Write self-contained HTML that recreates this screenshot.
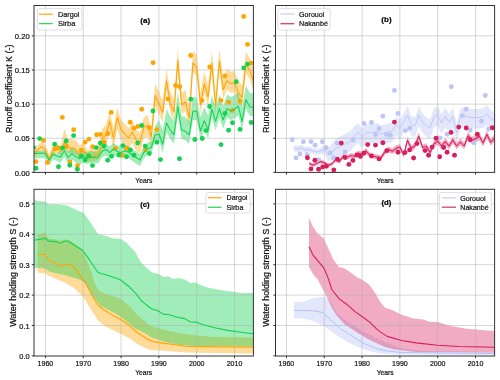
<!DOCTYPE html><html><head><meta charset="utf-8"><style>html,body{margin:0;padding:0;background:#fff;width:500px;height:380px;overflow:hidden}</style></head><body><svg width="500" height="380" viewBox="0 0 500 380" style="display:block;will-change:transform;font-family:'Liberation Sans', sans-serif">
<defs>
<clipPath id="ca"><rect x="34" y="5.5" width="219.4" height="166.9"/></clipPath>
<clipPath id="cb"><rect x="275.5" y="5.5" width="219.1" height="166.9"/></clipPath>
<clipPath id="cc"><rect x="34" y="189.3" width="219.4" height="166.7"/></clipPath>
<clipPath id="cd"><rect x="275.5" y="189.3" width="219.1" height="166.7"/></clipPath>
</defs>
<rect width="500" height="380" fill="#fff"/>
<g clip-path="url(#cc)">
<polygon points="37.5,234.2 41.5,233.7 44.6,232.6 46.2,235.3 48.6,238.4 55.7,239.2 60.4,240.8 66.0,239.2 69.1,240.0 73.9,243.2 79.4,247.1 83.3,252.6 88.4,264.2 92.0,274.0 95.0,284.0 98.4,290.3 105.3,293.7 113.8,296.3 120.7,298.8 129.2,305.7 137.8,315.5 146.3,322.5 150.5,326.0 159.7,328.5 168.9,331.0 179.5,333.0 192.6,335.0 213.4,337.0 254.0,337.5 254.0,353.5 200.0,352.8 186.0,352.4 166.3,351.0 150.5,350.0 146.3,348.3 137.8,344.5 129.2,338.2 120.7,333.9 113.8,330.5 105.3,326.2 98.4,321.0 95.0,315.9 90.8,309.2 83.7,297.4 74.2,288.0 63.6,282.0 55.7,278.7 47.8,275.6 45.4,273.2 41.5,273.2 37.5,272.4" fill="#ffa500" fill-opacity="0.4"/><polygon points="33.0,199.9 38.6,201.0 45.2,201.4 48.5,204.3 56.2,204.3 67.2,205.4 76.0,209.8 83.7,213.1 89.2,220.8 98.0,234.0 106.8,236.2 113.4,238.4 120.0,238.8 126.6,242.8 130.0,246.6 134.7,251.3 140.7,262.0 146.6,268.0 152.5,272.7 158.4,273.8 163.2,276.9 167.9,276.2 173.8,279.3 178.6,277.9 185.7,279.8 190.4,283.3 194.5,282.3 201.6,285.4 208.7,287.8 220.5,290.1 232.4,291.8 241.9,293.0 254.0,293.0 254.0,346.5 200.0,346.5 179.5,344.9 166.3,342.2 151.8,337.5 144.6,333.0 134.3,327.9 124.1,319.3 117.2,314.2 108.7,309.9 100.1,305.7 95.0,298.8 90.8,293.8 85.7,283.5 79.4,279.5 71.5,277.1 63.6,274.8 55.7,273.2 49.4,271.6 45.4,268.4 41.5,267.7 33.0,268.4" fill="#14d250" fill-opacity="0.4"/>
<g stroke="#b0b0b0" stroke-opacity="0.5" stroke-width="1"><line x1="45.45" y1="189.3" x2="45.45" y2="356"/><line x1="83.27" y1="189.3" x2="83.27" y2="356"/><line x1="121.09" y1="189.3" x2="121.09" y2="356"/><line x1="158.91" y1="189.3" x2="158.91" y2="356"/><line x1="196.73" y1="189.3" x2="196.73" y2="356"/><line x1="234.55" y1="189.3" x2="234.55" y2="356"/><line x1="34" y1="325.5" x2="253.4" y2="325.5"/><line x1="34" y1="295.1" x2="253.4" y2="295.1"/><line x1="34" y1="264.7" x2="253.4" y2="264.7"/><line x1="34" y1="234.3" x2="253.4" y2="234.3"/><line x1="34" y1="203.9" x2="253.4" y2="203.9"/></g>
<polyline points="37.5,254.7 44.6,254.2 49.4,261.0 54.9,262.9 60.4,266.4 65.2,264.2 69.9,264.8 75.4,268.4 79.4,274.8 85.0,282.0 90.8,292.7 95.0,300.5 98.4,305.7 105.3,310.8 113.8,315.9 120.7,319.3 129.2,325.3 137.8,333.0 146.3,338.2 151.8,341.3 159.7,342.6 172.9,344.5 186.0,346.2 200.0,346.6 254.0,347.2" fill="none" stroke="#ffa500" stroke-width="1.1" stroke-linejoin="round" stroke-opacity="1"/><polyline points="33.0,240.5 39.9,239.2 45.4,238.4 48.6,241.1 55.7,241.6 60.4,243.2 65.2,241.1 68.3,241.3 74.7,245.5 82.6,250.3 87.3,256.6 92.0,263.7 97.9,272.5 109.8,276.0 116.9,278.4 120.7,280.0 129.2,286.8 136.0,293.7 141.2,300.5 146.3,304.8 151.3,308.7 158.4,311.0 163.2,314.1 169.1,314.8 177.4,317.2 185.0,318.6 189.7,321.7 195.7,322.1 204.0,325.0 215.8,328.0 227.7,330.4 239.5,332.0 254.0,334.0" fill="none" stroke="#14d250" stroke-width="1.1" stroke-linejoin="round" stroke-opacity="1"/>
</g>
<rect x="34" y="189.3" width="219.4" height="166.7" fill="none" stroke="#333" stroke-width="1"/><line x1="45.45" y1="356" x2="45.45" y2="358.2" stroke="#333" stroke-width="1"/><line x1="83.27" y1="356" x2="83.27" y2="358.2" stroke="#333" stroke-width="1"/><line x1="121.09" y1="356" x2="121.09" y2="358.2" stroke="#333" stroke-width="1"/><line x1="158.91" y1="356" x2="158.91" y2="358.2" stroke="#333" stroke-width="1"/><line x1="196.73" y1="356" x2="196.73" y2="358.2" stroke="#333" stroke-width="1"/><line x1="234.55" y1="356" x2="234.55" y2="358.2" stroke="#333" stroke-width="1"/><line x1="31.8" y1="355.9" x2="34" y2="355.9" stroke="#333" stroke-width="1"/><line x1="31.8" y1="325.5" x2="34" y2="325.5" stroke="#333" stroke-width="1"/><line x1="31.8" y1="295.1" x2="34" y2="295.1" stroke="#333" stroke-width="1"/><line x1="31.8" y1="264.7" x2="34" y2="264.7" stroke="#333" stroke-width="1"/><line x1="31.8" y1="234.3" x2="34" y2="234.3" stroke="#333" stroke-width="1"/><line x1="31.8" y1="203.9" x2="34" y2="203.9" stroke="#333" stroke-width="1"/>
<g clip-path="url(#cd)">
<polygon points="294.0,302.0 303.4,302.0 312.9,298.0 324.8,296.5 331.8,303.0 336.0,312.0 342.4,317.9 350.8,323.2 361.3,330.5 371.8,335.8 384.9,342.1 400.0,348.0 420.0,351.0 495.0,352.0 495.0,355.2 400.0,354.6 384.9,353.8 375.0,352.5 360.3,348.0 348.5,342.5 336.6,335.5 324.8,326.5 312.9,321.0 303.4,318.6 294.0,318.6" fill="#b4c0f8" fill-opacity="0.38"/><polygon points="309.0,218.0 313.0,226.7 317.8,233.8 323.7,238.6 328.4,248.5 333.2,259.3 339.1,267.3 343.8,268.1 351.0,272.8 356.9,277.3 362.8,280.0 369.7,285.3 375.8,294.0 380.0,301.6 384.8,307.6 392.0,310.0 401.6,314.8 413.6,318.4 423.2,319.6 430.4,322.0 437.6,322.0 452.0,326.3 466.4,328.7 480.8,329.9 495.0,330.9 495.0,352.5 416.0,352.0 394.4,349.6 384.9,347.0 369.7,340.0 357.1,332.6 344.5,324.2 336.0,314.7 331.8,307.4 328.7,301.0 324.5,292.6 317.7,279.5 313.0,274.1 309.0,267.0" fill="#d81e5b" fill-opacity="0.37"/>
<g stroke="#b0b0b0" stroke-opacity="0.5" stroke-width="1"><line x1="286.45" y1="189.3" x2="286.45" y2="356"/><line x1="324.27" y1="189.3" x2="324.27" y2="356"/><line x1="362.09" y1="189.3" x2="362.09" y2="356"/><line x1="399.91" y1="189.3" x2="399.91" y2="356"/><line x1="437.73" y1="189.3" x2="437.73" y2="356"/><line x1="475.55" y1="189.3" x2="475.55" y2="356"/><line x1="275.5" y1="325.5" x2="494.6" y2="325.5"/><line x1="275.5" y1="295.1" x2="494.6" y2="295.1"/><line x1="275.5" y1="264.7" x2="494.6" y2="264.7"/><line x1="275.5" y1="234.3" x2="494.6" y2="234.3"/><line x1="275.5" y1="203.9" x2="494.6" y2="203.9"/></g>
<polyline points="294.0,310.3 312.9,310.8 323.4,312.6 329.7,319.0 340.3,328.4 350.8,335.2 363.4,343.2 376.0,348.4 384.9,350.5 400.0,352.5 495.0,353.5" fill="none" stroke="#b4c0f8" stroke-width="1.0" stroke-linejoin="round" stroke-opacity="1"/><polyline points="309.0,246.8 313.0,255.1 319.0,262.2 324.3,268.7 328.4,278.9 331.8,289.5 339.2,298.9 346.6,304.2 355.0,311.6 363.4,317.5 369.7,322.1 376.0,328.4 380.0,331.6 387.2,336.4 401.6,340.5 416.0,342.9 437.6,345.3 459.2,346.5 495.0,347.2" fill="none" stroke="#d81e5b" stroke-width="1.1" stroke-linejoin="round" stroke-opacity="1"/>
</g>
<rect x="275.5" y="189.3" width="219.1" height="166.7" fill="none" stroke="#333" stroke-width="1"/><line x1="286.45" y1="356" x2="286.45" y2="358.2" stroke="#333" stroke-width="1"/><line x1="324.27" y1="356" x2="324.27" y2="358.2" stroke="#333" stroke-width="1"/><line x1="362.09" y1="356" x2="362.09" y2="358.2" stroke="#333" stroke-width="1"/><line x1="399.91" y1="356" x2="399.91" y2="358.2" stroke="#333" stroke-width="1"/><line x1="437.73" y1="356" x2="437.73" y2="358.2" stroke="#333" stroke-width="1"/><line x1="475.55" y1="356" x2="475.55" y2="358.2" stroke="#333" stroke-width="1"/><line x1="273.3" y1="355.9" x2="275.5" y2="355.9" stroke="#333" stroke-width="1"/><line x1="273.3" y1="325.5" x2="275.5" y2="325.5" stroke="#333" stroke-width="1"/><line x1="273.3" y1="295.1" x2="275.5" y2="295.1" stroke="#333" stroke-width="1"/><line x1="273.3" y1="264.7" x2="275.5" y2="264.7" stroke="#333" stroke-width="1"/><line x1="273.3" y1="234.3" x2="275.5" y2="234.3" stroke="#333" stroke-width="1"/><line x1="273.3" y1="203.9" x2="275.5" y2="203.9" stroke="#333" stroke-width="1"/>
<g clip-path="url(#ca)">
<polygon points="34.1,148.4 37.9,145.1 41.7,141.8 45.5,145.8 49.2,154.3 53.0,145.8 56.8,144.5 60.6,147.1 64.4,128.4 68.1,139.3 71.9,138.7 75.7,140.0 79.5,145.0 83.3,143.0 87.1,149.6 90.8,149.6 94.6,148.7 98.4,147.8 102.2,128.7 106.0,125.0 109.7,111.0 113.5,128.0 117.3,107.5 121.1,119.7 124.9,124.0 128.7,128.0 132.4,122.0 136.2,130.0 140.0,132.4 143.8,117.3 147.6,115.4 151.3,127.0 155.1,83.5 158.9,91.5 162.7,100.5 166.5,69.0 170.3,92.0 174.0,100.0 177.8,48.4 181.6,93.0 185.4,90.0 189.2,106.0 192.9,50.9 196.7,55.0 200.5,93.0 204.3,71.7 208.1,85.0 211.9,51.1 215.6,94.0 219.4,49.3 223.2,77.8 227.0,68.7 230.8,71.7 234.6,71.1 238.3,80.3 242.1,85.7 245.9,51.7 249.7,58.4 253.5,69.3 253.5,90.3 249.7,79.4 245.9,72.7 242.1,106.7 238.3,101.3 234.6,92.1 230.8,92.7 227.0,89.7 223.2,98.8 219.4,70.3 215.6,115.0 211.9,72.1 208.1,106.0 204.3,92.7 200.5,114.0 196.7,76.0 192.9,71.9 189.2,127.0 185.4,111.0 181.6,114.0 177.8,69.4 174.0,121.0 170.3,113.0 166.5,90.0 162.7,121.5 158.9,114.5 155.1,106.5 151.3,148.0 147.6,136.4 143.8,138.3 140.0,153.4 136.2,151.0 132.4,143.0 128.7,149.0 124.9,145.0 121.1,140.7 117.3,128.5 113.5,149.0 109.7,132.0 106.0,146.0 102.2,149.7 98.4,159.8 94.6,160.7 90.8,161.6 87.1,161.6 83.3,155.0 79.5,159.0 75.7,154.0 71.9,152.7 68.1,153.3 64.4,147.4 60.6,155.6 56.8,153.0 53.0,154.3 49.2,162.8 45.5,154.3 41.7,150.3 37.9,153.6 34.1,156.9" fill="#ffa500" fill-opacity="0.4"/><polygon points="34.1,150.8 37.9,151.1 41.7,150.4 45.5,151.1 49.2,157.7 53.0,151.7 56.8,153.5 60.6,150.9 64.4,144.7 68.1,151.5 71.9,147.6 75.7,150.6 79.5,152.9 83.3,150.6 87.1,152.0 90.8,151.0 94.6,151.5 98.4,151.0 102.2,145.3 106.0,143.5 109.7,146.6 113.5,143.0 117.3,145.4 121.1,146.6 124.9,144.8 128.7,146.0 132.4,149.0 136.2,151.5 140.0,154.0 143.8,146.6 147.6,142.4 151.3,141.8 155.1,126.0 158.9,120.0 162.7,130.2 166.5,109.0 170.3,116.0 174.0,120.9 177.8,92.5 181.6,116.0 185.4,117.3 189.2,120.9 192.9,97.3 196.7,97.0 200.5,117.0 204.3,106.7 208.1,115.7 211.9,95.2 215.6,107.3 219.4,94.6 223.2,106.0 227.0,94.6 230.8,97.0 234.6,95.2 238.3,92.2 242.1,107.3 245.9,85.5 249.7,92.8 253.5,93.4 253.5,116.4 249.7,115.8 245.9,108.5 242.1,130.3 238.3,115.2 234.6,118.2 230.8,120.0 227.0,117.6 223.2,129.0 219.4,117.6 215.6,130.3 211.9,118.2 208.1,138.7 204.3,129.7 200.5,140.0 196.7,120.0 192.9,120.3 189.2,143.9 185.4,140.3 181.6,139.0 177.8,115.5 174.0,143.9 170.3,139.0 166.5,132.0 162.7,153.2 158.9,140.0 155.1,141.0 151.3,153.8 147.6,154.4 143.8,158.6 140.0,166.0 136.2,163.5 132.4,161.0 128.7,158.0 124.9,156.8 121.1,158.6 117.3,157.4 113.5,155.0 109.7,158.6 106.0,155.5 102.2,157.3 98.4,163.0 94.6,163.5 90.8,163.0 87.1,164.0 83.3,162.6 79.5,164.9 75.7,162.6 71.9,159.6 68.1,163.5 64.4,156.7 60.6,162.9 56.8,161.0 53.0,159.2 49.2,165.2 45.5,158.6 41.7,157.9 37.9,158.6 34.1,158.3" fill="#14d250" fill-opacity="0.4"/>
<g stroke="#b0b0b0" stroke-opacity="0.5" stroke-width="1"><line x1="45.45" y1="5.5" x2="45.45" y2="172.4"/><line x1="83.27" y1="5.5" x2="83.27" y2="172.4"/><line x1="121.09" y1="5.5" x2="121.09" y2="172.4"/><line x1="158.91" y1="5.5" x2="158.91" y2="172.4"/><line x1="196.73" y1="5.5" x2="196.73" y2="172.4"/><line x1="234.55" y1="5.5" x2="234.55" y2="172.4"/><line x1="34" y1="138.28" x2="253.4" y2="138.28"/><line x1="34" y1="104.15" x2="253.4" y2="104.15"/><line x1="34" y1="70.03" x2="253.4" y2="70.03"/><line x1="34" y1="35.9" x2="253.4" y2="35.9"/></g>
<polyline points="34.1,152.9 37.9,149.6 41.7,146.3 45.5,150.3 49.2,158.8 53.0,150.3 56.8,149.0 60.6,151.6 64.4,142.4 68.1,148.3 71.9,147.7 75.7,149.0 79.5,154.0 83.3,150.0 87.1,156.6 90.8,156.6 94.6,155.7 98.4,154.8 102.2,138.7 106.0,135.0 109.7,121.0 113.5,138.0 117.3,117.5 121.1,129.7 124.9,134.0 128.7,138.0 132.4,132.0 136.2,140.0 140.0,142.4 143.8,127.3 147.6,125.4 151.3,137.0 155.1,95.5 158.9,103.5 162.7,112.5 166.5,81.0 170.3,104.0 174.0,112.0 177.8,60.4 181.6,105.0 185.4,102.0 189.2,118.0 192.9,62.9 196.7,67.0 200.5,105.0 204.3,83.7 208.1,97.0 211.9,63.1 215.6,106.0 219.4,61.3 223.2,89.8 227.0,80.7 230.8,83.7 234.6,83.1 238.3,92.3 242.1,97.7 245.9,63.7 249.7,70.4 253.5,81.3" fill="none" stroke="#ffa500" stroke-width="1.05" stroke-linejoin="round" stroke-opacity="1"/><g fill="#ffa500" fill-opacity="1"><circle cx="36.0" cy="161.6" r="2.45"/><circle cx="43.5" cy="140.5" r="2.45"/><circle cx="47.4" cy="162.4" r="2.45"/><circle cx="54.8" cy="149.0" r="2.45"/><circle cx="58.4" cy="147.8" r="2.45"/><circle cx="62.3" cy="117.4" r="2.45"/><circle cx="66.3" cy="146.3" r="2.45"/><circle cx="69.9" cy="162.0" r="2.45"/><circle cx="73.7" cy="129.7" r="2.45"/><circle cx="77.5" cy="165.6" r="2.45"/><circle cx="81.3" cy="150.2" r="2.45"/><circle cx="85.1" cy="142.3" r="2.45"/><circle cx="89.0" cy="139.1" r="2.45"/><circle cx="92.6" cy="146.7" r="2.45"/><circle cx="96.6" cy="134.8" r="2.45"/><circle cx="100.4" cy="134.4" r="2.45"/><circle cx="104.0" cy="142.2" r="2.45"/><circle cx="107.8" cy="133.8" r="2.45"/><circle cx="111.2" cy="112.4" r="2.45"/><circle cx="115.5" cy="148.4" r="2.45"/><circle cx="122.1" cy="155.3" r="2.45"/><circle cx="126.5" cy="148.4" r="2.45"/><circle cx="130.2" cy="122.2" r="2.45"/><circle cx="134.0" cy="128.2" r="2.45"/><circle cx="137.8" cy="126.4" r="2.45"/><circle cx="141.7" cy="109.3" r="2.45"/><circle cx="145.4" cy="149.8" r="2.45"/><circle cx="149.3" cy="127.6" r="2.45"/><circle cx="153.1" cy="62.7" r="2.45"/><circle cx="156.9" cy="129.6" r="2.45"/><circle cx="168.0" cy="99.0" r="2.45"/><circle cx="175.7" cy="85.5" r="2.45"/><circle cx="179.7" cy="86.7" r="2.45"/><circle cx="190.7" cy="55.5" r="2.45"/><circle cx="202.0" cy="100.5" r="2.45"/><circle cx="209.7" cy="66.9" r="2.45"/><circle cx="221.0" cy="100.4" r="2.45"/><circle cx="225.0" cy="75.9" r="2.45"/><circle cx="228.6" cy="102.3" r="2.45"/><circle cx="232.2" cy="110.4" r="2.45"/><circle cx="240.0" cy="101.3" r="2.45"/><circle cx="243.7" cy="16.5" r="2.45"/><circle cx="247.5" cy="44.4" r="2.45"/><circle cx="251.2" cy="63.1" r="2.45"/></g><polyline points="34.1,153.3 37.9,153.6 41.7,152.9 45.5,153.6 49.2,160.2 53.0,154.2 56.8,156.0 60.6,156.9 64.4,150.7 68.1,157.5 71.9,153.6 75.7,156.6 79.5,158.9 83.3,156.6 87.1,158.0 90.8,157.0 94.6,157.5 98.4,157.0 102.2,151.3 106.0,149.5 109.7,152.6 113.5,149.0 117.3,151.4 121.1,152.6 124.9,150.8 128.7,152.0 132.4,155.0 136.2,157.5 140.0,160.0 143.8,152.6 147.6,148.4 151.3,147.8 155.1,135.0 158.9,134.0 162.7,144.2 166.5,123.0 170.3,130.0 174.0,134.9 177.8,106.5 181.6,130.0 185.4,131.3 189.2,134.9 192.9,111.3 196.7,111.0 200.5,131.0 204.3,120.7 208.1,129.7 211.9,109.2 215.6,121.3 219.4,108.6 223.2,120.0 227.0,108.6 230.8,111.0 234.6,109.2 238.3,106.2 242.1,121.3 245.9,99.5 249.7,106.8 253.5,107.4" fill="none" stroke="#14d250" stroke-width="1.05" stroke-linejoin="round" stroke-opacity="1"/><g fill="#14d250" fill-opacity="1"><circle cx="33.5" cy="147.3" r="2.45"/><circle cx="36.0" cy="168.2" r="2.45"/><circle cx="39.6" cy="138.6" r="2.45"/><circle cx="54.7" cy="144.2" r="2.45"/><circle cx="58.5" cy="166.8" r="2.45"/><circle cx="62.5" cy="147.9" r="2.45"/><circle cx="66.2" cy="141.0" r="2.45"/><circle cx="69.8" cy="165.2" r="2.45"/><circle cx="73.6" cy="135.6" r="2.45"/><circle cx="77.4" cy="169.2" r="2.45"/><circle cx="81.3" cy="156.3" r="2.45"/><circle cx="85.1" cy="160.0" r="2.45"/><circle cx="88.7" cy="156.0" r="2.45"/><circle cx="92.5" cy="165.6" r="2.45"/><circle cx="96.3" cy="147.6" r="2.45"/><circle cx="100.2" cy="143.1" r="2.45"/><circle cx="104.0" cy="146.1" r="2.45"/><circle cx="107.7" cy="160.2" r="2.45"/><circle cx="111.6" cy="156.2" r="2.45"/><circle cx="119.0" cy="154.8" r="2.45"/><circle cx="122.8" cy="145.6" r="2.45"/><circle cx="126.5" cy="156.8" r="2.45"/><circle cx="130.4" cy="149.9" r="2.45"/><circle cx="134.0" cy="155.3" r="2.45"/><circle cx="137.8" cy="143.0" r="2.45"/><circle cx="141.7" cy="125.5" r="2.45"/><circle cx="145.3" cy="146.1" r="2.45"/><circle cx="149.3" cy="153.5" r="2.45"/><circle cx="153.0" cy="111.0" r="2.45"/><circle cx="156.9" cy="142.3" r="2.45"/><circle cx="160.5" cy="159.6" r="2.45"/><circle cx="179.5" cy="158.8" r="2.45"/><circle cx="190.8" cy="99.2" r="2.45"/><circle cx="194.8" cy="139.5" r="2.45"/><circle cx="202.3" cy="138.5" r="2.45"/><circle cx="206.1" cy="130.6" r="2.45"/><circle cx="209.6" cy="106.5" r="2.45"/><circle cx="221.0" cy="144.6" r="2.45"/><circle cx="225.0" cy="113.4" r="2.45"/><circle cx="228.6" cy="130.2" r="2.45"/><circle cx="232.5" cy="122.7" r="2.45"/><circle cx="236.2" cy="81.8" r="2.45"/><circle cx="240.0" cy="129.4" r="2.45"/><circle cx="243.8" cy="67.9" r="2.45"/><circle cx="247.5" cy="64.1" r="2.45"/><circle cx="251.2" cy="122.5" r="2.45"/></g>
</g>
<rect x="34" y="5.5" width="219.4" height="166.9" fill="none" stroke="#333" stroke-width="1"/><line x1="45.45" y1="172.4" x2="45.45" y2="174.6" stroke="#333" stroke-width="1"/><line x1="83.27" y1="172.4" x2="83.27" y2="174.6" stroke="#333" stroke-width="1"/><line x1="121.09" y1="172.4" x2="121.09" y2="174.6" stroke="#333" stroke-width="1"/><line x1="158.91" y1="172.4" x2="158.91" y2="174.6" stroke="#333" stroke-width="1"/><line x1="196.73" y1="172.4" x2="196.73" y2="174.6" stroke="#333" stroke-width="1"/><line x1="234.55" y1="172.4" x2="234.55" y2="174.6" stroke="#333" stroke-width="1"/><line x1="31.8" y1="172.4" x2="34" y2="172.4" stroke="#333" stroke-width="1"/><line x1="31.8" y1="138.28" x2="34" y2="138.28" stroke="#333" stroke-width="1"/><line x1="31.8" y1="104.15" x2="34" y2="104.15" stroke="#333" stroke-width="1"/><line x1="31.8" y1="70.03" x2="34" y2="70.03" stroke="#333" stroke-width="1"/><line x1="31.8" y1="35.9" x2="34" y2="35.9" stroke="#333" stroke-width="1"/>
<g clip-path="url(#cb)">
<polygon points="294.0,145.4 297.8,146.0 301.6,145.0 305.4,147.0 309.1,146.5 312.9,148.0 316.7,149.0 320.5,148.0 324.3,144.2 328.1,148.5 331.8,143.8 335.6,139.0 339.4,137.0 343.2,135.0 347.0,133.0 350.7,131.0 354.5,126.0 358.3,123.5 362.1,128.5 365.9,124.5 369.7,124.2 373.4,123.5 377.2,123.0 381.0,125.5 384.8,124.5 388.6,123.5 392.3,122.5 396.1,116.2 399.9,119.8 403.7,113.5 407.5,106.5 411.3,116.2 415.0,117.4 418.8,106.5 422.6,113.8 426.4,117.4 430.2,119.2 433.9,108.3 437.7,106.6 441.5,114.5 445.3,107.8 449.1,113.9 452.9,107.8 456.6,124.1 460.4,109.0 464.2,107.2 468.0,108.5 471.8,109.0 475.5,109.0 479.3,109.0 483.1,108.5 486.9,105.4 490.7,110.2 494.5,112.1 494.5,131.6 490.7,129.7 486.9,124.9 483.1,128.0 479.3,128.5 475.5,128.5 471.8,128.5 468.0,128.0 464.2,126.7 460.4,128.5 456.6,143.6 452.9,127.3 449.1,133.4 445.3,127.3 441.5,134.0 437.7,126.1 433.9,127.8 430.2,138.7 426.4,136.9 422.6,133.3 418.8,126.0 415.0,136.9 411.3,135.7 407.5,126.0 403.7,133.0 399.9,139.3 396.1,135.7 392.3,142.0 388.6,143.0 384.8,144.0 381.0,145.0 377.2,142.5 373.4,143.0 369.7,143.7 365.9,144.0 362.1,148.0 358.3,143.0 354.5,146.0 350.7,151.0 347.0,153.0 343.2,155.0 339.4,157.0 335.6,159.0 331.8,160.2 328.1,161.5 324.3,153.8 320.5,154.0 316.7,155.0 312.9,154.0 309.1,152.5 305.4,153.0 301.6,151.0 297.8,152.0 294.0,151.4" fill="#b4c0f8" fill-opacity="0.38"/><polygon points="309.1,161.4 312.9,163.3 316.7,161.4 320.5,159.5 324.3,160.8 328.1,163.3 331.8,162.0 335.6,157.6 339.4,159.5 343.2,153.7 347.0,155.0 350.7,153.1 354.5,153.8 358.3,150.4 362.1,151.9 365.9,147.9 369.7,152.4 373.4,153.8 377.2,154.6 381.0,155.5 384.8,149.1 388.6,146.5 392.3,148.5 396.1,145.2 399.9,143.9 403.7,152.3 407.5,136.8 411.3,145.2 415.0,142.6 418.8,132.3 422.6,144.5 426.4,143.2 430.2,149.7 433.9,140.6 437.7,137.5 441.5,142.8 445.3,138.2 449.1,142.8 452.9,136.3 456.6,142.8 460.4,138.5 464.2,142.8 468.0,131.8 471.8,136.9 475.5,135.0 479.3,132.4 483.1,139.6 486.9,130.5 490.7,138.8 494.5,134.2 494.5,141.8 490.7,145.8 486.9,138.5 483.1,146.4 479.3,140.2 475.5,142.4 471.8,144.1 468.0,139.6 464.2,149.2 460.4,145.5 456.6,149.2 452.9,143.5 449.1,149.2 445.3,145.2 441.5,149.2 437.7,144.7 433.9,147.4 430.2,155.3 426.4,149.6 422.6,150.7 418.8,140.1 415.0,149.0 411.3,151.4 407.5,144.0 403.7,157.5 399.9,150.1 396.1,151.4 392.3,154.1 388.6,152.5 384.8,154.7 381.0,160.3 377.2,159.4 373.4,158.8 369.7,157.6 365.9,153.7 362.1,157.1 358.3,155.8 354.5,158.8 350.7,158.1 347.0,159.8 343.2,158.7 339.4,163.7 335.6,162.0 331.8,166.0 328.1,167.1 324.3,164.8 320.5,163.7 316.7,165.4 312.9,167.1 309.1,165.4" fill="#d81e5b" fill-opacity="0.37"/>
<g stroke="#b0b0b0" stroke-opacity="0.5" stroke-width="1"><line x1="286.45" y1="5.5" x2="286.45" y2="172.4"/><line x1="324.27" y1="5.5" x2="324.27" y2="172.4"/><line x1="362.09" y1="5.5" x2="362.09" y2="172.4"/><line x1="399.91" y1="5.5" x2="399.91" y2="172.4"/><line x1="437.73" y1="5.5" x2="437.73" y2="172.4"/><line x1="475.55" y1="5.5" x2="475.55" y2="172.4"/><line x1="275.5" y1="138.28" x2="494.6" y2="138.28"/><line x1="275.5" y1="104.15" x2="494.6" y2="104.15"/><line x1="275.5" y1="70.03" x2="494.6" y2="70.03"/><line x1="275.5" y1="35.9" x2="494.6" y2="35.9"/></g>
<g fill="#bcc6f6" fill-opacity="1"><circle cx="292.2" cy="139.7" r="2.45"/><circle cx="296.0" cy="158.0" r="2.45"/><circle cx="299.9" cy="154.0" r="2.45"/><circle cx="303.4" cy="141.7" r="2.45"/><circle cx="307.2" cy="154.6" r="2.45"/><circle cx="311.0" cy="141.6" r="2.45"/><circle cx="315.1" cy="145.2" r="2.45"/><circle cx="318.7" cy="159.7" r="2.45"/><circle cx="322.4" cy="141.7" r="2.45"/><circle cx="326.3" cy="147.8" r="2.45"/><circle cx="330.3" cy="153.0" r="2.45"/><circle cx="333.6" cy="158.0" r="2.45"/><circle cx="337.3" cy="143.2" r="2.45"/><circle cx="345.1" cy="152.0" r="2.45"/><circle cx="353.1" cy="140.0" r="2.45"/><circle cx="364.0" cy="123.5" r="2.45"/><circle cx="371.5" cy="122.5" r="2.45"/><circle cx="375.5" cy="134.5" r="2.45"/><circle cx="379.1" cy="128.5" r="2.45"/><circle cx="382.9" cy="116.2" r="2.45"/><circle cx="386.5" cy="134.4" r="2.45"/><circle cx="390.4" cy="135.3" r="2.45"/><circle cx="394.4" cy="90.4" r="2.45"/><circle cx="398.0" cy="113.5" r="2.45"/><circle cx="405.5" cy="130.6" r="2.45"/><circle cx="409.6" cy="128.3" r="2.45"/><circle cx="440.0" cy="137.9" r="2.45"/><circle cx="447.1" cy="134.2" r="2.45"/><circle cx="451.3" cy="86.7" r="2.45"/><circle cx="462.4" cy="115.6" r="2.45"/><circle cx="466.2" cy="109.2" r="2.45"/><circle cx="470.2" cy="130.1" r="2.45"/><circle cx="473.9" cy="142.7" r="2.45"/><circle cx="481.5" cy="121.3" r="2.45"/><circle cx="485.3" cy="95.5" r="2.45"/><circle cx="488.5" cy="129.0" r="2.45"/></g><polyline points="294.0,148.4 297.8,149.0 301.6,148.0 305.4,150.0 309.1,149.5 312.9,151.0 316.7,152.0 320.5,151.0 324.3,149.0 328.1,155.0 331.8,152.0 335.6,149.0 339.4,147.0 343.2,145.0 347.0,143.0 350.7,141.0 354.5,136.0 358.3,132.0 362.1,137.0 365.9,133.0 369.7,132.7 373.4,132.0 377.2,131.5 381.0,134.0 384.8,133.0 388.6,132.0 392.3,131.0 396.1,124.7 399.9,128.3 403.7,122.0 407.5,115.0 411.3,124.7 415.0,125.9 418.8,115.0 422.6,122.3 426.4,125.9 430.2,127.7 433.9,116.8 437.7,115.1 441.5,123.0 445.3,116.3 449.1,122.4 452.9,116.3 456.6,132.6 460.4,117.5 464.2,115.7 468.0,117.0 471.8,117.5 475.5,117.5 479.3,117.5 483.1,117.0 486.9,113.9 490.7,118.7 494.5,120.6" fill="none" stroke="#b9c4f7" stroke-width="0.85" stroke-linejoin="round" stroke-opacity="1"/><polyline points="309.1,163.4 312.9,165.2 316.7,163.4 320.5,161.6 324.3,162.8 328.1,165.2 331.8,164.0 335.6,159.8 339.4,161.6 343.2,156.2 347.0,157.4 350.7,155.6 354.5,156.3 358.3,153.1 362.1,154.5 365.9,150.8 369.7,155.0 373.4,156.3 377.2,157.0 381.0,157.9 384.8,151.9 388.6,149.5 392.3,151.3 396.1,148.3 399.9,147.0 403.7,154.9 407.5,140.4 411.3,148.3 415.0,145.8 418.8,136.2 422.6,147.6 426.4,146.4 430.2,152.5 433.9,144.0 437.7,141.1 441.5,146.0 445.3,141.7 449.1,146.0 452.9,139.9 456.6,146.0 460.4,142.0 464.2,146.0 468.0,135.7 471.8,140.5 475.5,138.7 479.3,136.3 483.1,143.0 486.9,134.5 490.7,142.3 494.5,138.0" fill="none" stroke="#d81e5b" stroke-width="1.05" stroke-linejoin="round" stroke-opacity="1"/><g fill="#d81e5b" fill-opacity="1"><circle cx="307.4" cy="157.8" r="2.45"/><circle cx="311.0" cy="168.9" r="2.45"/><circle cx="314.9" cy="160.3" r="2.45"/><circle cx="318.6" cy="169.3" r="2.45"/><circle cx="322.7" cy="166.9" r="2.45"/><circle cx="326.4" cy="166.3" r="2.45"/><circle cx="333.8" cy="170.0" r="2.45"/><circle cx="337.5" cy="159.3" r="2.45"/><circle cx="341.3" cy="143.1" r="2.45"/><circle cx="345.0" cy="157.5" r="2.45"/><circle cx="348.9" cy="164.4" r="2.45"/><circle cx="352.9" cy="160.4" r="2.45"/><circle cx="356.9" cy="155.0" r="2.45"/><circle cx="360.4" cy="156.4" r="2.45"/><circle cx="363.8" cy="153.3" r="2.45"/><circle cx="367.7" cy="144.6" r="2.45"/><circle cx="371.5" cy="156.0" r="2.45"/><circle cx="375.5" cy="145.1" r="2.45"/><circle cx="379.1" cy="158.9" r="2.45"/><circle cx="382.9" cy="142.7" r="2.45"/><circle cx="386.9" cy="150.6" r="2.45"/><circle cx="394.4" cy="122.1" r="2.45"/><circle cx="398.0" cy="152.2" r="2.45"/><circle cx="405.0" cy="152.6" r="2.45"/><circle cx="409.6" cy="149.9" r="2.45"/><circle cx="413.6" cy="158.0" r="2.45"/><circle cx="417.0" cy="143.6" r="2.45"/><circle cx="425.1" cy="150.6" r="2.45"/><circle cx="428.6" cy="155.2" r="2.45"/><circle cx="432.1" cy="147.1" r="2.45"/><circle cx="436.1" cy="138.2" r="2.45"/><circle cx="439.7" cy="156.8" r="2.45"/><circle cx="443.7" cy="147.5" r="2.45"/><circle cx="447.1" cy="152.2" r="2.45"/><circle cx="451.1" cy="132.4" r="2.45"/><circle cx="454.5" cy="155.2" r="2.45"/><circle cx="458.7" cy="127.1" r="2.45"/><circle cx="466.2" cy="128.0" r="2.45"/><circle cx="470.1" cy="139.8" r="2.45"/><circle cx="477.3" cy="134.2" r="2.45"/><circle cx="492.3" cy="127.8" r="2.45"/></g>
</g>
<rect x="275.5" y="5.5" width="219.1" height="166.9" fill="none" stroke="#333" stroke-width="1"/><line x1="286.45" y1="172.4" x2="286.45" y2="174.6" stroke="#333" stroke-width="1"/><line x1="324.27" y1="172.4" x2="324.27" y2="174.6" stroke="#333" stroke-width="1"/><line x1="362.09" y1="172.4" x2="362.09" y2="174.6" stroke="#333" stroke-width="1"/><line x1="399.91" y1="172.4" x2="399.91" y2="174.6" stroke="#333" stroke-width="1"/><line x1="437.73" y1="172.4" x2="437.73" y2="174.6" stroke="#333" stroke-width="1"/><line x1="475.55" y1="172.4" x2="475.55" y2="174.6" stroke="#333" stroke-width="1"/><line x1="273.3" y1="172.4" x2="275.5" y2="172.4" stroke="#333" stroke-width="1"/><line x1="273.3" y1="138.28" x2="275.5" y2="138.28" stroke="#333" stroke-width="1"/><line x1="273.3" y1="104.15" x2="275.5" y2="104.15" stroke="#333" stroke-width="1"/><line x1="273.3" y1="70.03" x2="275.5" y2="70.03" stroke="#333" stroke-width="1"/><line x1="273.3" y1="35.9" x2="275.5" y2="35.9" stroke="#333" stroke-width="1"/>
<g transform="translate(14.85 175.6) scale(1 0.9)"><text x="0" y="0" font-size="8.2" font-weight="normal" fill="#111" stroke="#111" stroke-width="0.22" textLength="14.85" lengthAdjust="spacingAndGlyphs">0.00</text></g>
<g transform="translate(14.85 141.47) scale(1 0.9)"><text x="0" y="0" font-size="8.2" font-weight="normal" fill="#111" stroke="#111" stroke-width="0.22" textLength="14.85" lengthAdjust="spacingAndGlyphs">0.05</text></g>
<g transform="translate(14.85 107.35) scale(1 0.9)"><text x="0" y="0" font-size="8.2" font-weight="normal" fill="#111" stroke="#111" stroke-width="0.22" textLength="14.85" lengthAdjust="spacingAndGlyphs">0.10</text></g>
<g transform="translate(14.85 73.23) scale(1 0.9)"><text x="0" y="0" font-size="8.2" font-weight="normal" fill="#111" stroke="#111" stroke-width="0.22" textLength="14.85" lengthAdjust="spacingAndGlyphs">0.15</text></g>
<g transform="translate(14.85 39.1) scale(1 0.9)"><text x="0" y="0" font-size="8.2" font-weight="normal" fill="#111" stroke="#111" stroke-width="0.22" textLength="14.85" lengthAdjust="spacingAndGlyphs">0.20</text></g>
<g transform="translate(19.25 359) scale(1 0.9)"><text x="0" y="0" font-size="8.2" font-weight="normal" fill="#111" stroke="#111" stroke-width="0.22" textLength="10.35" lengthAdjust="spacingAndGlyphs">0.0</text></g>
<g transform="translate(19.25 328.6) scale(1 0.9)"><text x="0" y="0" font-size="8.2" font-weight="normal" fill="#111" stroke="#111" stroke-width="0.22" textLength="10.35" lengthAdjust="spacingAndGlyphs">0.1</text></g>
<g transform="translate(19.25 298.2) scale(1 0.9)"><text x="0" y="0" font-size="8.2" font-weight="normal" fill="#111" stroke="#111" stroke-width="0.22" textLength="10.35" lengthAdjust="spacingAndGlyphs">0.2</text></g>
<g transform="translate(19.25 267.8) scale(1 0.9)"><text x="0" y="0" font-size="8.2" font-weight="normal" fill="#111" stroke="#111" stroke-width="0.22" textLength="10.35" lengthAdjust="spacingAndGlyphs">0.3</text></g>
<g transform="translate(19.25 237.4) scale(1 0.9)"><text x="0" y="0" font-size="8.2" font-weight="normal" fill="#111" stroke="#111" stroke-width="0.22" textLength="10.35" lengthAdjust="spacingAndGlyphs">0.4</text></g>
<g transform="translate(19.25 207) scale(1 0.9)"><text x="0" y="0" font-size="8.2" font-weight="normal" fill="#111" stroke="#111" stroke-width="0.22" textLength="10.35" lengthAdjust="spacingAndGlyphs">0.5</text></g>
<g transform="translate(37.6 366) scale(1 0.9)"><text x="0" y="0" font-size="8.2" font-weight="normal" fill="#111" stroke="#111" stroke-width="0.22" textLength="15.65" lengthAdjust="spacingAndGlyphs">1960</text></g>
<g transform="translate(278.6 366) scale(1 0.9)"><text x="0" y="0" font-size="8.2" font-weight="normal" fill="#111" stroke="#111" stroke-width="0.22" textLength="15.65" lengthAdjust="spacingAndGlyphs">1960</text></g>
<g transform="translate(75.42 366) scale(1 0.9)"><text x="0" y="0" font-size="8.2" font-weight="normal" fill="#111" stroke="#111" stroke-width="0.22" textLength="15.65" lengthAdjust="spacingAndGlyphs">1970</text></g>
<g transform="translate(316.42 366) scale(1 0.9)"><text x="0" y="0" font-size="8.2" font-weight="normal" fill="#111" stroke="#111" stroke-width="0.22" textLength="15.65" lengthAdjust="spacingAndGlyphs">1970</text></g>
<g transform="translate(113.24 366) scale(1 0.9)"><text x="0" y="0" font-size="8.2" font-weight="normal" fill="#111" stroke="#111" stroke-width="0.22" textLength="15.65" lengthAdjust="spacingAndGlyphs">1980</text></g>
<g transform="translate(354.24 366) scale(1 0.9)"><text x="0" y="0" font-size="8.2" font-weight="normal" fill="#111" stroke="#111" stroke-width="0.22" textLength="15.65" lengthAdjust="spacingAndGlyphs">1980</text></g>
<g transform="translate(151.06 366) scale(1 0.9)"><text x="0" y="0" font-size="8.2" font-weight="normal" fill="#111" stroke="#111" stroke-width="0.22" textLength="15.65" lengthAdjust="spacingAndGlyphs">1990</text></g>
<g transform="translate(392.06 366) scale(1 0.9)"><text x="0" y="0" font-size="8.2" font-weight="normal" fill="#111" stroke="#111" stroke-width="0.22" textLength="15.65" lengthAdjust="spacingAndGlyphs">1990</text></g>
<g transform="translate(188.88 366) scale(1 0.9)"><text x="0" y="0" font-size="8.2" font-weight="normal" fill="#111" stroke="#111" stroke-width="0.22" textLength="15.65" lengthAdjust="spacingAndGlyphs">2000</text></g>
<g transform="translate(429.88 366) scale(1 0.9)"><text x="0" y="0" font-size="8.2" font-weight="normal" fill="#111" stroke="#111" stroke-width="0.22" textLength="15.65" lengthAdjust="spacingAndGlyphs">2000</text></g>
<g transform="translate(226.7 366) scale(1 0.9)"><text x="0" y="0" font-size="8.2" font-weight="normal" fill="#111" stroke="#111" stroke-width="0.22" textLength="15.65" lengthAdjust="spacingAndGlyphs">2010</text></g>
<g transform="translate(467.7 366) scale(1 0.9)"><text x="0" y="0" font-size="8.2" font-weight="normal" fill="#111" stroke="#111" stroke-width="0.22" textLength="15.65" lengthAdjust="spacingAndGlyphs">2010</text></g>
<g transform="translate(135.25 182.9) scale(1 0.9)"><text x="0" y="0" font-size="8.2" font-weight="normal" fill="#111" stroke="#111" stroke-width="0.22" textLength="17.05" lengthAdjust="spacingAndGlyphs">Years</text></g>
<g transform="translate(376.65 182.9) scale(1 0.9)"><text x="0" y="0" font-size="8.2" font-weight="normal" fill="#111" stroke="#111" stroke-width="0.22" textLength="17.05" lengthAdjust="spacingAndGlyphs">Years</text></g>
<g transform="translate(135.15 374.7) scale(1 0.9)"><text x="0" y="0" font-size="8.2" font-weight="normal" fill="#111" stroke="#111" stroke-width="0.22" textLength="17.05" lengthAdjust="spacingAndGlyphs">Years</text></g>
<g transform="translate(376.65 374.7) scale(1 0.9)"><text x="0" y="0" font-size="8.2" font-weight="normal" fill="#111" stroke="#111" stroke-width="0.22" textLength="17.05" lengthAdjust="spacingAndGlyphs">Years</text></g>
<text x="11.3" y="133.15" font-size="8.9" fill="#111" stroke="#111" stroke-width="0.22" textLength="88.35" lengthAdjust="spacingAndGlyphs" transform="rotate(-90 11.3 132.9)">Runoff coefficient K (-)</text>
<text x="268.9" y="133.15" font-size="8.9" fill="#111" stroke="#111" stroke-width="0.22" textLength="88.35" lengthAdjust="spacingAndGlyphs" transform="rotate(-90 268.9 132.9)">Runoff coefficient K (-)</text>
<text x="15.7" y="327.05" font-size="8.9" fill="#111" stroke="#111" stroke-width="0.22" textLength="109.45" lengthAdjust="spacingAndGlyphs" transform="rotate(-90 15.7 326.8)">Water holding strength S (-)</text>
<text x="269.2" y="327.05" font-size="8.9" fill="#111" stroke="#111" stroke-width="0.22" textLength="109.45" lengthAdjust="spacingAndGlyphs" transform="rotate(-90 269.2 326.8)">Water holding strength S (-)</text>
<g transform="translate(140.35 23.4) scale(1 0.93)"><text x="0" y="0" font-size="8.2" font-weight="bold" fill="#000" stroke="#000" stroke-width="0.22" textLength="9.85" lengthAdjust="spacingAndGlyphs">(a)</text></g>
<g transform="translate(381.35 21.9) scale(1 0.93)"><text x="0" y="0" font-size="8.2" font-weight="bold" fill="#000" stroke="#000" stroke-width="0.22" textLength="10.25" lengthAdjust="spacingAndGlyphs">(b)</text></g>
<g transform="translate(140.15 206.8) scale(1 0.93)"><text x="0" y="0" font-size="8.2" font-weight="bold" fill="#000" stroke="#000" stroke-width="0.22" textLength="9.35" lengthAdjust="spacingAndGlyphs">(c)</text></g>
<g transform="translate(381.45 205.4) scale(1 0.93)"><text x="0" y="0" font-size="8.2" font-weight="bold" fill="#000" stroke="#000" stroke-width="0.22" textLength="9.95" lengthAdjust="spacingAndGlyphs">(d)</text></g>
<rect x="37.4" y="8.6" width="44.5" height="21.4" rx="1.5" fill="#fff" fill-opacity="0.8" stroke="#d8d8d8" stroke-width="0.8"/><line x1="39" y1="14.2" x2="52.8" y2="14.2" stroke="#ffa500" stroke-width="1.3" stroke-opacity="0.9"/><g transform="translate(57.95 16.8) scale(1 0.9)"><text x="0" y="0" font-size="8.2" font-weight="normal" fill="#111" stroke="#111" stroke-width="0.22" textLength="21.45" lengthAdjust="spacingAndGlyphs">Dargol</text></g><line x1="39" y1="23.6" x2="52.8" y2="23.6" stroke="#22d34a" stroke-width="1.3" stroke-opacity="0.9"/><g transform="translate(57.95 26.2) scale(1 0.9)"><text x="0" y="0" font-size="8.2" font-weight="normal" fill="#111" stroke="#111" stroke-width="0.22" textLength="17.45" lengthAdjust="spacingAndGlyphs">Sirba</text></g>
<rect x="277.9" y="8.6" width="52.2" height="21.4" rx="1.5" fill="#fff" fill-opacity="0.8" stroke="#d8d8d8" stroke-width="0.8"/><line x1="280.4" y1="14" x2="294.4" y2="14" stroke="#c4ccf5" stroke-width="1.3" stroke-opacity="0.9"/><g transform="translate(299.05 16.6) scale(1 0.9)"><text x="0" y="0" font-size="8.2" font-weight="normal" fill="#111" stroke="#111" stroke-width="0.22" textLength="25.25" lengthAdjust="spacingAndGlyphs">Gorouol</text></g><line x1="280.4" y1="23.7" x2="294.4" y2="23.7" stroke="#d62a5c" stroke-width="1.3" stroke-opacity="0.9"/><g transform="translate(299.05 26.3) scale(1 0.9)"><text x="0" y="0" font-size="8.2" font-weight="normal" fill="#111" stroke="#111" stroke-width="0.22" textLength="28.85" lengthAdjust="spacingAndGlyphs">Nakanbé</text></g>
<rect x="205.9" y="192.5" width="44.2" height="20.5" rx="1.5" fill="#fff" fill-opacity="0.8" stroke="#d8d8d8" stroke-width="0.8"/><line x1="207.9" y1="197.7" x2="221.5" y2="197.7" stroke="#ffa500" stroke-width="1.3" stroke-opacity="0.9"/><g transform="translate(226.55 200.3) scale(1 0.9)"><text x="0" y="0" font-size="8.2" font-weight="normal" fill="#111" stroke="#111" stroke-width="0.22" textLength="20.85" lengthAdjust="spacingAndGlyphs">Dargol</text></g><line x1="207.9" y1="207.3" x2="221.5" y2="207.3" stroke="#22d34a" stroke-width="1.3" stroke-opacity="0.9"/><g transform="translate(226.55 209.9) scale(1 0.9)"><text x="0" y="0" font-size="8.2" font-weight="normal" fill="#111" stroke="#111" stroke-width="0.22" textLength="16.85" lengthAdjust="spacingAndGlyphs">Sirba</text></g>
<rect x="439.5" y="192.6" width="51.8" height="20.4" rx="1.5" fill="#fff" fill-opacity="0.8" stroke="#d8d8d8" stroke-width="0.8"/><line x1="441.9" y1="197.9" x2="455.9" y2="197.9" stroke="#c4ccf5" stroke-width="1.3" stroke-opacity="0.9"/><g transform="translate(460.25 200.5) scale(1 0.9)"><text x="0" y="0" font-size="8.2" font-weight="normal" fill="#111" stroke="#111" stroke-width="0.22" textLength="25.25" lengthAdjust="spacingAndGlyphs">Gorouol</text></g><line x1="441.9" y1="207.2" x2="455.9" y2="207.2" stroke="#d62a5c" stroke-width="1.3" stroke-opacity="0.9"/><g transform="translate(460.25 209.8) scale(1 0.9)"><text x="0" y="0" font-size="8.2" font-weight="normal" fill="#111" stroke="#111" stroke-width="0.22" textLength="28.45" lengthAdjust="spacingAndGlyphs">Nakanbé</text></g>
</svg></body></html>
